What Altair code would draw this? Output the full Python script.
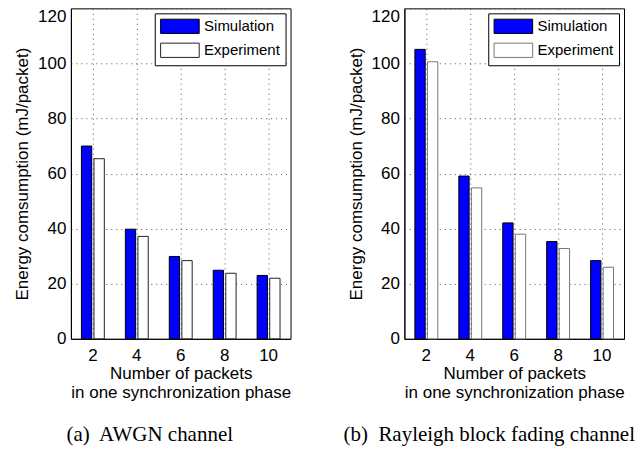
import altair as alt
import pandas as pd

packets = [2, 4, 6, 8, 10]
series = ["Simulation", "Experiment"]
awgn_simulation = [70.0, 39.8, 29.9, 24.9, 23.0]
awgn_experiment = [65.4, 37.2, 28.4, 23.8, 22.0]
rayleigh_simulation = [105.1, 59.1, 42.1, 35.3, 28.4]
rayleigh_experiment = [100.6, 54.8, 38.0, 32.8, 26.0]
y_ticks = [0, 20, 40, 60, 80, 100, 120]
y_title = "Energy comsumption (mJ/packet)"
x_title = ["Number of packets", "in one synchronization phase"]
captions = ["(a)\u00a0 AWGN channel", "(b)\u00a0 Rayleigh block fading channel"]
fill_colors = ["#0000ff", "#ffffff"]

SANS = "Liberation Sans"
SERIF = "Liberation Serif"
# wide legend swatch, drawn from the entry's left edge
RECT = "M-1,-1L4.41,-1L4.41,1L-1,1Z"


def table(sim, exp):
    return pd.DataFrame({
        "packets": packets * 2,
        "series": [series[0]] * len(packets) + [series[1]] * len(packets),
        "value": sim + exp,
    })


def panel(sim, exp, caption, exp_stroke, caption_dx):
    return alt.Chart(table(sim, exp)).mark_bar(strokeWidth=1).encode(
        x=alt.X("packets:O", sort=packets,
                scale=alt.Scale(paddingInner=0, paddingOuter=0),
                axis=alt.Axis(title=x_title, labelAngle=0, bandPosition=0.5, grid=True,
                              labelPadding=9, titlePadding=2, titleLineHeight=19)),
        xOffset=alt.XOffset("series:N", sort=series,
                            scale=alt.Scale(domain=series, paddingInner=0.18, paddingOuter=0.836)),
        y=alt.Y("value:Q", scale=alt.Scale(domain=[0, 120], nice=False),
                axis=alt.Axis(title=y_title, values=y_ticks, grid=True,
                              labelPadding=5, titlePadding=6,
                              labelBaseline={"condition": {"test": "datum.value === 120",
                                                           "value": "top"},
                                             "value": "middle"})),
        fill=alt.Fill("series:N", sort=series,
                      scale=alt.Scale(domain=series, range=fill_colors),
                      legend=alt.Legend(title=None, orient="top-right", offset=5,
                                        fillColor="white", strokeColor="black",
                                        padding=5, symbolType=RECT, symbolSize=204,
                                        symbolStrokeColor="black", symbolStrokeWidth=1,
                                        symbolOpacity=1, labelFont=SANS, labelFontSize=15,
                                        labelColor="black", labelOffset=28.4, rowPadding=4)),
        stroke=alt.Stroke("series:N", sort=series,
                          scale=alt.Scale(domain=series, range=["#000000", exp_stroke]),
                          legend=None),
    ).properties(
        width=220, height=331,
        title=alt.TitleParams(caption, orient="bottom", font=SERIF, fontSize=21,
                              fontWeight="normal", color="black", offset=23,
                              dx=caption_dx),
    )


left = panel(awgn_simulation, awgn_experiment, captions[0], "#222222", -31)
right = panel(rayleigh_simulation, rayleigh_experiment, captions[1], "#777777", -25)

chart = alt.hconcat(left, right, spacing=51).resolve_scale(
    fill="independent", stroke="independent"
).resolve_legend(fill="independent").configure(
    padding={"left": 5, "top": -2, "right": 0, "bottom": 0},
    background="white",
).configure_axis(
    labelFont=SANS, labelFontSize=17, labelColor="black",
    titleFont=SANS, titleFontSize=17, titleFontWeight="normal", titleColor="black",
    domainColor="black", domainWidth=1, ticks=False,
    gridColor="#555555", gridDash=[1, 4], gridWidth=1,
).configure_view(stroke="black", strokeWidth=1)

chart.save("out.html", embed_options={"renderer": "svg", "actions": False})
